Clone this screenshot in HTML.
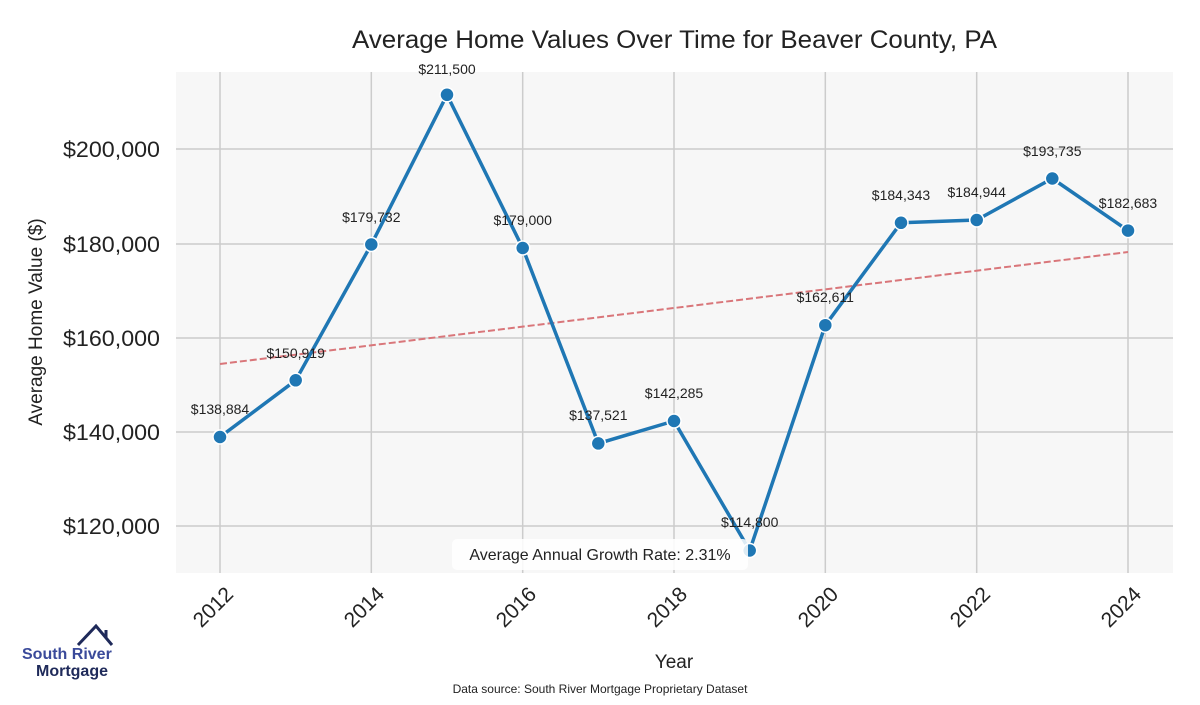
<!DOCTYPE html>
<html><head><meta charset="utf-8"><style>
body{margin:0;background:#fff;width:1200px;height:700px;overflow:hidden;font-family:"Liberation Sans",sans-serif}
</style></head><body>
<svg width="1200" height="700" xmlns="http://www.w3.org/2000/svg" font-family="Liberation Sans, sans-serif">
<rect width="1200" height="700" fill="#fff"/>
<rect x="176" y="72" width="997" height="501" fill="#f7f7f7"/>
<g stroke="#cccccc" stroke-width="1.5">
<line x1="220" y1="72" x2="220" y2="573"/><line x1="371.3" y1="72" x2="371.3" y2="573"/>
<line x1="522.7" y1="72" x2="522.7" y2="573"/><line x1="674" y1="72" x2="674" y2="573"/>
<line x1="825.3" y1="72" x2="825.3" y2="573"/><line x1="976.7" y1="72" x2="976.7" y2="573"/>
<line x1="1128" y1="72" x2="1128" y2="573"/>
<line x1="176" y1="149" x2="1173" y2="149"/><line x1="176" y1="244" x2="1173" y2="244"/>
<line x1="176" y1="338" x2="1173" y2="338"/><line x1="176" y1="432" x2="1173" y2="432"/>
<line x1="176" y1="526" x2="1173" y2="526"/>
</g>
<text x="352" y="48" font-size="25" fill="#222" textLength="645" lengthAdjust="spacingAndGlyphs">Average Home Values Over Time for Beaver County, PA</text>
<g font-size="22" fill="#222">
<text x="63" y="157" textLength="97" lengthAdjust="spacingAndGlyphs">$200,000</text>
<text x="63" y="252" textLength="97" lengthAdjust="spacingAndGlyphs">$180,000</text>
<text x="63" y="346" textLength="97" lengthAdjust="spacingAndGlyphs">$160,000</text>
<text x="63" y="440" textLength="97" lengthAdjust="spacingAndGlyphs">$140,000</text>
<text x="63" y="534" textLength="97" lengthAdjust="spacingAndGlyphs">$120,000</text>
</g>
<text transform="translate(42,322) rotate(-90)" font-size="19" text-anchor="middle" fill="#222">Average Home Value ($)</text>
<g font-size="21" fill="#222" text-anchor="middle">
<text transform="translate(218,612) rotate(-45)">2012</text>
<text transform="translate(369,612) rotate(-45)">2014</text>
<text transform="translate(521,612) rotate(-45)">2016</text>
<text transform="translate(672,612) rotate(-45)">2018</text>
<text transform="translate(823,612) rotate(-45)">2020</text>
<text transform="translate(975,612) rotate(-45)">2022</text>
<text transform="translate(1126,612) rotate(-45)">2024</text>
</g>
<text x="674" y="668" font-size="19" text-anchor="middle" fill="#222">Year</text>
<text x="600" y="693" font-size="12" text-anchor="middle" fill="#222">Data source: South River Mortgage Proprietary Dataset</text>
<line x1="220" y1="364" x2="1128" y2="252" stroke="#d9767a" stroke-width="2" stroke-dasharray="7,3"/>
<polyline fill="none" stroke="#1f77b4" stroke-width="3.5" stroke-linejoin="round" points="220,437 295.7,380.3 371.3,244.5 447,94.8 522.7,248 598.3,443.4 674,421 749.7,550.5 825.3,325.2 901,222.8 976.7,220 1052.3,178.5 1128,230.6"/>
<g fill="#1f77b4" stroke="#fff" stroke-width="1.5">
<circle cx="220" cy="437" r="7"/><circle cx="295.7" cy="380.3" r="7"/><circle cx="371.3" cy="244.5" r="7"/>
<circle cx="447" cy="94.8" r="7"/><circle cx="522.7" cy="248" r="7"/><circle cx="598.3" cy="443.4" r="7"/>
<circle cx="674" cy="421" r="7"/><circle cx="749.7" cy="550.5" r="7"/><circle cx="825.3" cy="325.2" r="7"/>
<circle cx="901" cy="222.8" r="7"/><circle cx="976.7" cy="220" r="7"/><circle cx="1052.3" cy="178.5" r="7"/>
<circle cx="1128" cy="230.6" r="7"/>
</g>
<g font-size="14" fill="#222" text-anchor="middle">
<text x="220" y="414">$138,884</text><text x="295.7" y="358">$150,919</text><text x="371.3" y="222">$179,732</text>
<text x="447" y="74">$211,500</text><text x="522.7" y="225">$179,000</text><text x="598.3" y="420">$137,521</text>
<text x="674" y="398">$142,285</text><text x="749.7" y="527">$114,800</text><text x="825.3" y="302">$162,611</text>
<text x="901" y="200">$184,343</text><text x="976.7" y="197">$184,944</text><text x="1052.3" y="156">$193,735</text>
<text x="1128" y="208">$182,683</text>
</g>
<rect x="452" y="539" width="296" height="31" rx="5" fill="#fff" fill-opacity="0.85"/>
<text x="600" y="560" font-size="16" text-anchor="middle" fill="#222">Average Annual Growth Rate: 2.31%</text>
<path d="M78,645 L96,626 L112,645 M106,638 L106,630" fill="none" stroke="#1f2a5a" stroke-width="3"/>
<text x="22" y="659" font-size="16" font-weight="bold" fill="#3a4a9a">South River</text>
<text x="36" y="676" font-size="16" font-weight="bold" fill="#1f2a5a">Mortgage</text>
</svg>
</body></html>
